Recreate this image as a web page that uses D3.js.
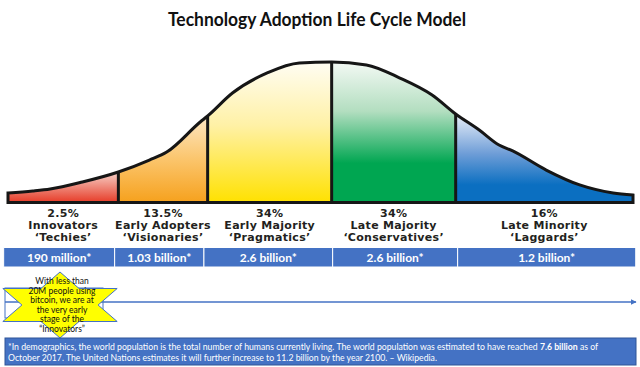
<!DOCTYPE html>
<html><head><meta charset="utf-8">
<script src="https://cdn.jsdelivr.net/npm/d3@7"></script>
<style>
html,body{margin:0;padding:0;background:#fff;}
svg{display:block;}
</style></head>
<body>
<svg id="chart" width="640" height="367"></svg>
<script>
// ---- data ----
// bell curve outline: x in standard deviations from the mean,
// y in relative adoption density (peak = 100)
const curveX = [-2.61, -2.41, -2.27, -2.01, -1.72, -1.47, -1.33, -1.06, -1.0, -0.80, -0.52, -0.26, 0, 0.28, 0.55, 0.81, 1.0, 1.19, 1.35, 1.46, 1.73, 2.0, 2.27, 2.43];
const curveY = [6.8, 8.2, 9.6, 14.6, 21.7, 30.2, 35.9, 57.3, 61.6, 77.9, 92.2, 99.3, 100, 97.9, 88.6, 76.5, 63.0, 51.6, 40.9, 36.7, 23.1, 12.5, 6.8, 5.3];
const segmentBounds = [-2.61, -1.72, -1.0, 0, 1.0, 2.43];
const shares = ["2.5%", "13.5%", "34%", "34%", "16%"];
const groups = ["Innovators", "Early Adopters", "Early Majority", "Late Majority", "Late Minority"];
const nicknames = ["\u2018Techies\u2019", "\u2018Visionaries\u2019", "\u2018Pragmatics\u2019", "\u2018Conservatives\u2019", "\u2018Laggards\u2019"];
const populations = ["190 million*", "1.03 billion*", "2.6 billion*", "2.6 billion*", "1.2 billion*"];
const cellEdges = [-2.645, -1.75, -1.03, 0.008, 1.016, 2.452];
const starLines = ["With less than", "20M people using", "bitcoin, we are at", "the very early", "stage of the", "\u201CInnovators\u201D"];
const footnote1a = "*In demographics, the world population is the total number of humans currently living. The world population was estimated to have reached ";
const footnote1b = "7.6 billion";
const footnote1c = " as of";
const footnote2 = "October 2017. The United Nations estimates it will further increase to 11.2 billion by the year 2100. \u2013 Wikipedia.";
const title = "Technology Adoption Life Cycle Model";

const gradStops = [
  [["0", "#f7d2c9"], ["1", "#e63b27"]],
  [["0", "#fde7c4"], ["0.5", "#fbc56c"], ["1", "#f6a11d"]],
  [["0", "#fffdf3"], ["0.45", "#fff1a6"], ["1", "#ffe100"]],
  [["0", "#f3f9f4"], ["0.35", "#b3dec0"], ["0.72", "#00a651"], ["1", "#00a651"]],
  [["0", "#eaf0f9"], ["0.45", "#6e9dd7"], ["0.8", "#0b6fc1"], ["1", "#0b6fc1"]]
];

// ---- drawing ----
const svg = d3.select("#chart");
const defs = svg.append("defs");
const x = d3.scaleLinear().domain([-2.61, 2.43]).range([8, 633]);
const y = d3.scaleLinear().domain([0, 100]).range([202.5, 62]);
const pts = curveX.map((v, i) => [v, curveY[i]]);

svg.append("text").attr("x", 317).attr("y", 26).attr("text-anchor", "middle")
  .attr("font-family", "Lato, 'Open Sans', sans-serif").attr("font-weight", 700)
  .attr("font-size", 18).attr("fill", "#111")
  .attr("textLength", 298).attr("lengthAdjust", "spacingAndGlyphs").text(title);

const area = d3.area().x(d => x(d[0])).y0(y(0)).y1(d => y(d[1])).curve(d3.curveMonotoneX);

segmentBounds.slice(0, -1).forEach((a, i) => {
  const b = segmentBounds[i + 1];
  const inSeg = pts.filter(p => p[0] >= a - 1e-9 && p[0] <= b + 1e-9);
  const topVal = d3.max(inSeg, p => p[1]);
  const g = defs.append("linearGradient").attr("id", "g" + i)
    .attr("gradientUnits", "userSpaceOnUse")
    .attr("x1", 0).attr("x2", 0).attr("y1", y(topVal)).attr("y2", y(0));
  gradStops[i].forEach(s => g.append("stop").attr("offset", s[0]).attr("stop-color", s[1]));
  defs.append("clipPath").attr("id", "c" + i).append("rect")
    .attr("x", x(a)).attr("y", 0).attr("width", x(b) - x(a)).attr("height", 250);
  svg.append("path").attr("d", area(pts)).attr("fill", `url(#g${i})`).attr("clip-path", `url(#c${i})`);
});

// dividers
segmentBounds.slice(1, -1).forEach(b => {
  const p = pts.find(q => Math.abs(q[0] - b) < 1e-9);
  svg.append("line").attr("x1", x(b)).attr("x2", x(b)).attr("y1", y(0)).attr("y2", y(p[1]))
    .attr("stroke", "#161616").attr("stroke-width", 3);
});
// outline
svg.append("path").attr("d", area(pts)).attr("fill", "none")
  .attr("stroke", "#161616").attr("stroke-width", 3).attr("stroke-linejoin", "miter");

// labels
groups.forEach((gname, i) => {
  const cx = (x(segmentBounds[i]) + x(segmentBounds[i + 1])) / 2;
  const t = svg.append("text").attr("text-anchor", "middle")
    .attr("font-family", "'DejaVu Sans', sans-serif").attr("font-weight", 700)
    .attr("font-size", 11).attr("letter-spacing", 0.3).attr("fill", "#231f20");
  [shares[i], gname, nicknames[i]].forEach((s, k) => {
    t.append("tspan").attr("x", cx).attr("y", 216.5 + k * 12.1).text(s);
  });
});

// population bar
populations.forEach((p, i) => {
  const x0 = x(cellEdges[i]), x1 = x(cellEdges[i + 1]);
  svg.append("rect").attr("x", x0).attr("y", 247.5).attr("width", x1 - x0).attr("height", 19.5)
    .attr("fill", "#4472c4").attr("stroke", "#ffffff").attr("stroke-width", 1);
  svg.append("text").attr("x", (x0 + x1) / 2).attr("y", 261.5).attr("text-anchor", "middle")
    .attr("font-family", "Lato, sans-serif").attr("font-weight", 700).attr("font-size", 12)
    .attr("fill", "#fff").text(p);
});

// arrow timeline
defs.append("marker").attr("id", "arr").attr("viewBox", "0 0 10 10").attr("refX", 9).attr("refY", 5)
  .attr("markerWidth", 4).attr("markerHeight", 4).attr("orient", "auto")
  .append("path").attr("d", "M0,0 L10,5 L0,10 Z").attr("fill", "#4472c4");
svg.append("line").attr("x1", 5).attr("x2", 636).attr("y1", 302).attr("y2", 302)
  .attr("stroke", "#4472c4").attr("stroke-width", 1.5).attr("marker-end", "url(#arr)");
svg.append("rect").attr("x", 5).attr("y", 288).attr("width", 98).attr("height", 30)
  .attr("fill", "none").attr("stroke", "#4472c4").attr("stroke-width", 1);

// star callout
const scx = 60, scy = 305, rx = 66, ry = 33;
const starPts = d3.range(12).map(k => {
  const ang = -Math.PI / 2 + k * Math.PI / 6;
  const r = k % 2 === 0 ? 1 : 1 / Math.sqrt(3);
  return [scx + rx * r * Math.cos(ang), scy + ry * r * Math.sin(ang)];
});
svg.append("path").attr("d", d3.line()(starPts) + "Z").attr("fill", "#ffff00")
  .attr("stroke", "#4472c4").attr("stroke-width", 1);
const st = svg.append("text").attr("text-anchor", "middle")
  .attr("font-family", "Lato, sans-serif").attr("font-size", 8.5).attr("fill", "#111");
starLines.forEach((s, k) => st.append("tspan").attr("x", 62).attr("y", 284 + k * 9.5).text(s));

// footnote box
svg.append("rect").attr("x", 5).attr("y", 338).attr("width", 631).attr("height", 27)
  .attr("fill", "#4472c4").attr("stroke", "#2f5597").attr("stroke-width", 1);
const f1 = svg.append("text").attr("x", 8).attr("y", 350).attr("font-family", "Lato, sans-serif")
  .attr("font-size", 8.7).attr("fill", "#fff");
f1.append("tspan").text(footnote1a);
f1.append("tspan").attr("font-weight", 700).text(footnote1b);
f1.append("tspan").text(footnote1c);
svg.append("text").attr("x", 8).attr("y", 361).attr("font-family", "Lato, sans-serif")
  .attr("font-size", 8.7).attr("fill", "#fff").text(footnote2);
</script>
</body></html>
